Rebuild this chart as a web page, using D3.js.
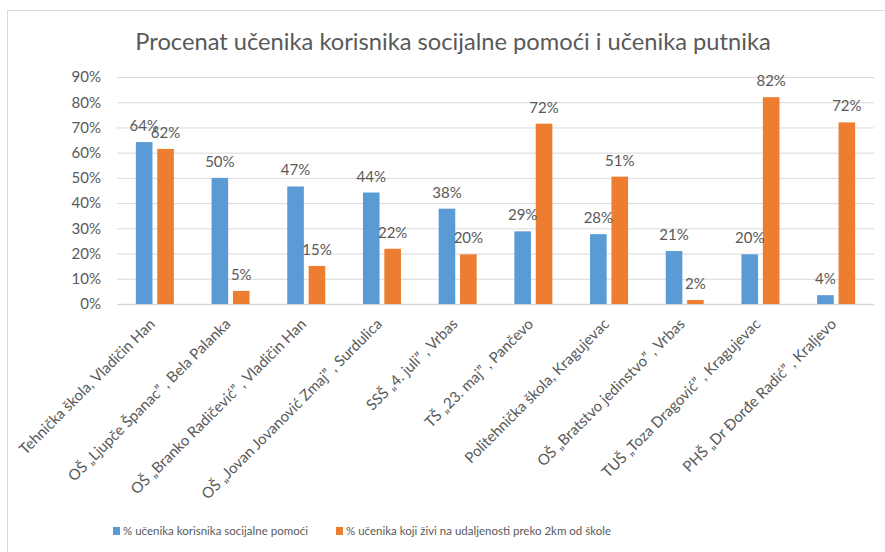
<!DOCTYPE html>
<html>
<head>
<meta charset="utf-8">
<script src="https://cdn.jsdelivr.net/npm/d3@7"></script>
<style>
  body { margin: 0; background: #fff; }
  text { font-family: Lato, "Open Sans", sans-serif; fill: #595959; }
</style>
</head>
<body>
<svg id="svg"></svg>
<script>
// data
const categories = [
  'Tehnička škola, Vladičin Han',
  'OŠ „Ljupče Španac” , Bela Palanka',
  'OŠ „Branko Radičević” , Vladičin Han',
  'OŠ „Jovan Jovanović Zmaj” , Surdulica',
  'SSŠ „4. juli” , Vrbas',
  'TŠ „23. maj” , Pančevo',
  'Politehnička škola, Kragujevac',
  'OŠ „Bratstvo jedinstvo” , Vrbas',
  'TUŠ „Toza Dragović” , Kragujevac',
  'PHŠ „Dr Đorđe Radić” , Kraljevo'
]
const socialAid = [0.642, 0.50, 0.466, 0.442, 0.378, 0.288, 0.277, 0.21, 0.197, 0.035]
const commuters = [0.615, 0.052, 0.151, 0.219, 0.197, 0.715, 0.505, 0.016, 0.82, 0.72]
const seriesNames = ['% učenika korisnika socijalne pomoći', '% učenika koji živi na udaljenosti preko 2km od škole']
const colors = ['#5B9BD5', '#ED7D31']
const yTicks = [0, 0.1, 0.2, 0.3, 0.4, 0.5, 0.6, 0.7, 0.8, 0.9]

const width = 885, height = 552
const margin = {top: 77, left: 117, bottom: 248, right: 11}

let svg = d3.select('#svg').attr('width', width).attr('height', height)

// chart border
svg.append('rect')
  .attr('x', 7.5).attr('y', 10.5)
  .attr('width', width).attr('height', height)
  .attr('fill', 'none').attr('stroke', '#d9d9d9')

// title
svg.append('text')
  .attr('x', 453).attr('y', 50)
  .attr('text-anchor', 'middle')
  .style('font-size', '23.7px')
  .text('Procenat učenika korisnika socijalne pomoći i učenika putnika')

let x0 = d3.scaleBand().domain(categories).range([margin.left, width - margin.right])
let x1 = d3.scaleBand().domain([0, 1]).range([-19, 19]).paddingInner(0.224)
let y = d3.scaleLinear().domain([0, 0.9]).range([height - margin.bottom, margin.top])

// grid + y labels
let yAxis = d3.axisLeft(y).tickValues(yTicks).tickFormat(d3.format('.0%'))
  .tickSize(-(width - margin.right - margin.left)).tickPadding(16)
let yGroup = svg.append('g')
  .attr('transform', `translate(${margin.left},0)`)
  .call(yAxis)
yGroup.select('.domain').remove()
yGroup.selectAll('.tick line').attr('stroke', '#d9d9d9')
yGroup.selectAll('.tick text').style('font-size', '15px').style('fill', '#595959')

// x axis
let xAxis = d3.axisBottom(x0).tickSize(0).tickPadding(0)
let xGroup = svg.append('g')
  .attr('transform', `translate(0,${height - margin.bottom})`)
  .call(xAxis)
xGroup.select('.domain').attr('stroke', '#d9d9d9').attr('stroke-width', 1.5)
xGroup.selectAll('.tick text')
  .style('font-size', '15px').style('fill', '#595959')
  .attr('text-anchor', 'end')
  .attr('dy', null)
  .attr('transform', 'translate(1,21) rotate(-45)')

// bars
let data = [socialAid, commuters]
let groups = svg.append('g').selectAll('g')
  .data(categories).enter().append('g')
  .attr('transform', d => `translate(${x0(d) + x0.bandwidth() / 2},0)`)

groups.selectAll('rect')
  .data((d, i) => data.map((s, k) => ({k: k, v: s[i]})))
  .enter().append('rect')
  .attr('x', d => x1(d.k))
  .attr('width', x1.bandwidth())
  .attr('y', d => y(d.v))
  .attr('height', d => y(0) - y(d.v))
  .attr('fill', d => colors[d.k])

groups.selectAll('text.lbl')
  .data((d, i) => data.map((s, k) => ({k: k, v: s[i]})))
  .enter().append('text')
  .attr('class', 'lbl')
  .attr('x', d => x1(d.k) + x1.bandwidth() / 2)
  .attr('y', d => y(d.v) - 11)
  .attr('text-anchor', 'middle')
  .style('font-size', '15px')
  .text(d => d3.format('.0%')(d.v))

// legend
let legendX = [113, 336]
let legend = svg.append('g').selectAll('g')
  .data(seriesNames).enter().append('g')
  .attr('transform', (d, i) => `translate(${legendX[i]},527)`)
legend.append('rect').attr('width', 7).attr('height', 8).attr('fill', (d, i) => colors[i])
legend.append('text').attr('x', 10).attr('y', 8)
  .style('font-size', '11.5px')
  .text(d => d)
</script>
</body>
</html>
